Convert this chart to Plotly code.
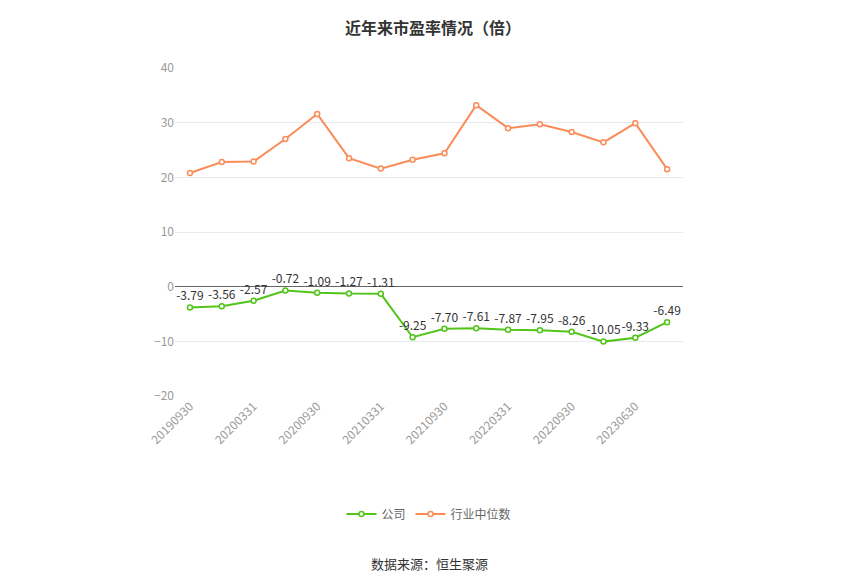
import plotly.graph_objects as go

dates = ['20190930', '20191231', '20200331', '20200630', '20200930', '20201231',
         '20210331', '20210630', '20210930', '20211231', '20220331', '20220630',
         '20220930', '20230331', '20230630', '20230930']
company = [-3.79, -3.56, -2.57, -0.72, -1.09, -1.27, -1.31, -9.25, -7.70, -7.61,
           -7.87, -7.95, -8.26, -10.05, -9.33, -6.49]
industry = [20.8, 22.8, 22.9, 27.0, 31.6, 23.5, 21.6, 23.2, 24.4, 33.2,
            29.0, 29.7, 28.3, 26.4, 29.9, 21.5]
tick_dates = dates[::2]

font = 'Noto Sans CJK SC'

fig = go.Figure()
fig.add_trace(go.Scatter(
    x=dates, y=company, name='公司', mode='lines+markers+text',
    line=dict(color='#52c41a', width=2),
    marker=dict(size=5, color='white', line=dict(color='#52c41a', width=1.5)),
    text=['%.2f' % v for v in company], textposition='top center',
    textfont=dict(size=12, color='#333333'),
))
fig.add_trace(go.Scatter(
    x=dates, y=industry, name='行业中位数', mode='lines+markers',
    line=dict(color='#fa8c59', width=2),
    marker=dict(size=5, color='white', line=dict(color='#fa8c59', width=1.5)),
))

fig.update_layout(
    width=850, height=574,
    paper_bgcolor='white', plot_bgcolor='white',
    font=dict(family=font, size=12, color='#999999'),
    title=dict(text='<b>近年来市盈率情况（倍）</b>', x=0.5, y=0.975,
               font=dict(size=16, color='#333333')),
    margin=dict(l=167, r=175, t=60, b=186, autoexpand=False),
    showlegend=True,
    legend=dict(orientation='h', x=0.5, xanchor='center', y=-0.36,
                yanchor='middle', font=dict(size=12, color='#666666')),
    annotations=[dict(text='数据来源：恒生聚源', x=0.5, xref='paper', y=-0.51,
                      yref='paper', yanchor='middle', showarrow=False,
                      font=dict(size=13, color='#333333'))],
)
fig.update_xaxes(type='category', range=[-0.47, 15.5], tickvals=tick_dates,
                 ticktext=tick_dates, tickangle=-45, showgrid=False,
                 showline=False, ticks='', tickfont=dict(color='#999999'))
fig.update_yaxes(range=[-20, 40], dtick=10, gridcolor='#e6e9f0',
                 zeroline=True, zerolinecolor='#666666', zerolinewidth=1,
                 showline=False, ticks='', tickfont=dict(color='#999999'))

fig.write_html("out.html")
